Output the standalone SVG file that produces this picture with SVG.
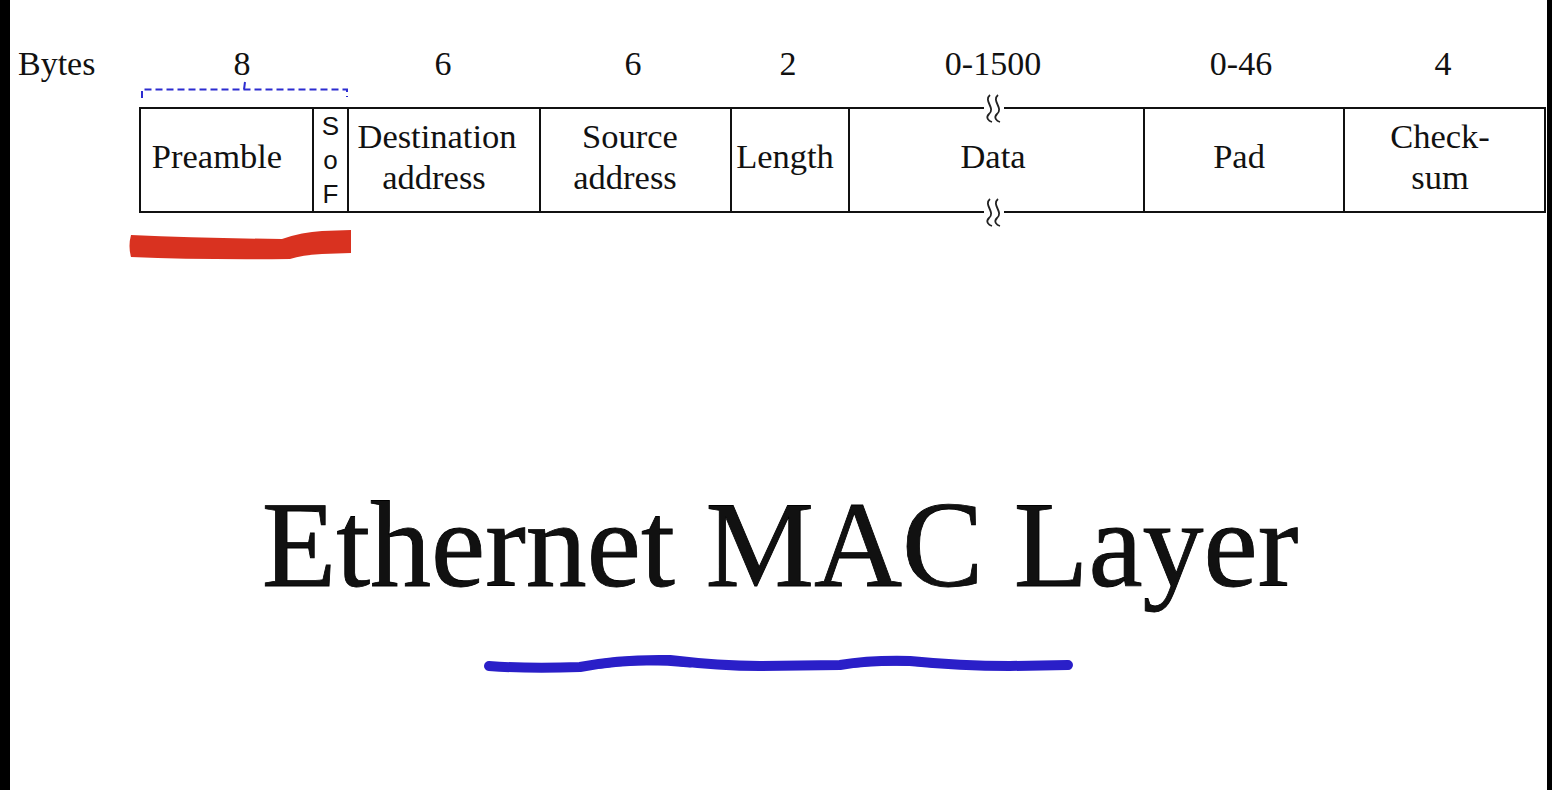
<svg xmlns="http://www.w3.org/2000/svg" width="1552" height="790" viewBox="0 0 1552 790">
<style>
.serif{font-family:"Liberation Serif","Times New Roman",serif;fill:#111}
.hdr{font-size:34px;text-anchor:middle}
.lbl{font-size:34.5px;text-anchor:middle}
.sans{font-family:"Liberation Sans",Arial,sans-serif;font-size:26px;fill:#111;text-anchor:middle}
.frame{fill:none;stroke:#111;stroke-width:2}
.brk{fill:none;stroke:#222;stroke-width:1.8}
</style>
<rect x="0" y="0" width="1552" height="790" fill="#fff"/>
<rect x="0" y="0" width="10" height="790" fill="#000"/>
<rect x="1547" y="0" width="5" height="790" fill="#000"/>

<g id="headers">
<text class="serif" x="18" y="75" font-size="34">Bytes</text>
<text class="serif hdr" x="242" y="75">8</text>
<text class="serif hdr" x="443" y="75">6</text>
<text class="serif hdr" x="633" y="75">6</text>
<text class="serif hdr" x="788" y="75">2</text>
<text class="serif hdr" x="993" y="75">0-1500</text>
<text class="serif hdr" x="1241" y="75">0-46</text>
<text class="serif hdr" x="1443" y="75">4</text>
</g>

<g id="bracket" fill="none" stroke="#2c2cd0" stroke-width="2">
<path d="M142,98 L142,89.5 L347,89.5 L347,97" stroke-dasharray="7 4"/>
<path d="M244,89.5 L245,82"/>
</g>

<g id="frame">
<line class="frame" x1="140" y1="108" x2="1545" y2="108"/>
<line class="frame" x1="140" y1="212" x2="1545" y2="212"/>
<line class="frame" x1="140" y1="107" x2="140" y2="213"/>
<line class="frame" x1="1545" y1="107" x2="1545" y2="213"/>
</g>

<g id="preamble">
<text class="serif lbl" x="217" y="168">Preamble</text>
<line class="frame" x1="313" y1="108" x2="313" y2="212"/>
</g>
<g id="sof">
<text class="sans" x="330.5" y="135">S</text>
<text class="sans" x="330.5" y="169">o</text>
<text class="sans" x="330.5" y="203">F</text>
<line class="frame" x1="348" y1="108" x2="348" y2="212"/>
</g>
<g id="dest">
<text class="serif lbl" x="437" y="148">Destination</text>
<text class="serif lbl" x="434" y="189">address</text>
<line class="frame" x1="540" y1="108" x2="540" y2="212"/>
</g>
<g id="src">
<text class="serif lbl" x="630" y="148">Source</text>
<text class="serif lbl" x="625" y="189">address</text>
<line class="frame" x1="731" y1="108" x2="731" y2="212"/>
</g>
<g id="length">
<text class="serif lbl" x="785" y="168">Length</text>
<line class="frame" x1="849" y1="108" x2="849" y2="212"/>
</g>
<g id="data">
<text class="serif lbl" x="993" y="168">Data</text>
<rect x="984" y="104" width="20" height="8" fill="#fff"/>
<rect x="984" y="208" width="20" height="8" fill="#fff"/>
<path class="brk" d="M990,95 C983,101 996,108 989,114 C985,118 989,121 992,122"/>
<path class="brk" d="M998,95 C991,101 1004,108 997,114 C993,118 997,121 1000,122"/>
<path class="brk" d="M990,199 C983,205 996,212 989,218 C985,222 989,225 992,226"/>
<path class="brk" d="M998,199 C991,205 1004,212 997,218 C993,222 997,225 1000,226"/>
<line class="frame" x1="1144" y1="108" x2="1144" y2="212"/>
</g>
<g id="pad">
<text class="serif lbl" x="1239" y="168">Pad</text>
<line class="frame" x1="1344" y1="108" x2="1344" y2="212"/>
</g>
<g id="checksum">
<text class="serif lbl" x="1440" y="148">Check-</text>
<text class="serif lbl" x="1440" y="189">sum</text>
</g>

<g id="red-mark">
<path d="M131,235 Q200,238 282,239 Q302,232 322,231 L351,230 L351,253 L322,254 Q302,255 290,259 Q200,260 131,257 Q128,246 131,235 Z" fill="#d93220"/>
</g>

<g id="title">
<text class="serif" x="780" y="586" font-size="122" text-anchor="middle" fill="#000" stroke="#000" stroke-width="0.8">Ethernet MAC Layer</text>
</g>

<g id="blue-mark" fill="none" stroke="#2a1fc8" stroke-linecap="round">
<path d="M489,666 Q530,669 580,667 Q620,659 670,660 Q720,666 760,666 L840,665 Q870,660 910,661 Q960,666 1010,666 L1068,665" stroke-width="10"/>
<path d="M600,664 Q640,658 690,663" stroke-width="9"/>
<path d="M850,664 Q890,659 940,664" stroke-width="8"/>
</g>
</svg>
